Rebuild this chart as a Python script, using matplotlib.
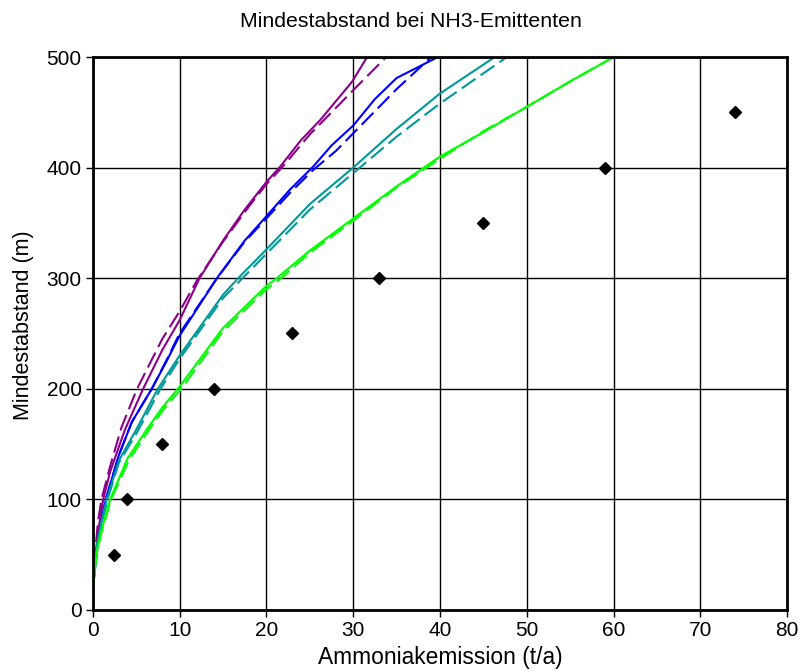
import matplotlib.pyplot as plt

plt.rcParams['font.family'] = ['Liberation Sans', 'DejaVu Sans']

# Mindestabstand curves (solid / dashed pairs)
purple_x = [0, 0.3, 0.7, 1.2, 2, 3.7, 5.8, 8, 10, 12.3, 15, 17.5, 20, 21.6, 24, 26.2, 28, 29.9, 31.6]
purple_y = [18, 50, 75, 100, 125, 163, 200, 235, 262, 300, 334, 362, 387, 401, 425, 443, 460, 478, 500]
purple_dx = [0, 0.3, 0.6, 1, 2, 3.3, 5.1, 8, 10, 12, 15, 18, 20, 22, 25, 28.5, 30, 33.8]
purple_dy = [20, 55, 80, 100, 130, 165, 200, 245, 270, 298, 333, 365, 385, 402, 430, 458, 470, 500]

blue_x = [0, 0.5, 1.0, 1.5, 3, 4.5, 6.8, 8.5, 10, 14.3, 17.5, 20, 22.7, 25.4, 27.5, 30, 32.5, 35, 40]
blue_y = [18, 55, 80, 100, 140, 170, 200, 225, 248, 300, 334, 356, 380, 401, 420, 438, 462, 481, 501]
blue_dx = [0, 0.5, 1, 1.5, 3, 4.5, 6.8, 8.5, 10, 14.3, 17.5, 20, 22.7, 25.4, 28, 30, 35, 39]
blue_dy = [20, 55, 80, 100, 140, 170, 200, 226, 250, 300, 333, 354, 377, 398, 415, 431, 471, 500]

teal_x = [0, 0.5, 1, 1.6, 3, 5, 7.5, 10, 15, 16.75, 20, 25, 30, 35, 40, 46.5]
teal_y = [20, 60, 80, 100, 135, 163, 200, 230, 285, 300, 326, 367, 400, 435, 467, 501]
teal_dx = [0, 0.5, 1, 1.7, 3, 5.2, 7.8, 10, 15, 17, 20, 25, 30, 35, 40, 47.7]
teal_dy = [20, 58, 78, 100, 133, 162, 200, 227, 282, 298, 322, 362, 395, 428, 458, 500]

green_x = [0, 0.5, 1, 2, 4, 6.2, 8, 10, 15, 20, 21.2, 25, 30, 35, 40, 45, 50, 55, 60]
green_y = [20, 55, 72, 100, 137, 163, 183, 202, 255, 293, 300, 325, 354, 383, 410, 432, 455, 478, 500]
green_dx = [0, 0.5, 1, 2.1, 4.2, 6.4, 8.2, 10.2, 15, 20, 21.4, 25, 30, 35, 40, 45, 50, 55, 60]
green_dy = [20, 53, 70, 100, 136, 162, 182, 200, 252, 290, 298, 323, 352, 382, 408, 433, 455, 478, 500]

# Richtwerte (Rauten)
pts_x = [2.4, 3.95, 7.95, 14, 23, 33, 45, 59, 74]
pts_y = [50, 100, 150, 200, 250, 300, 350, 400, 450]

fig = plt.figure(figsize=(8, 6.71), dpi=100)
ax = fig.add_axes([0.116, 0.091, 0.868, 0.824])

ax.grid(True, color='black', linewidth=1.0)
ax.set_axisbelow(True)

ds = (8, 3)
ax.plot(purple_x, purple_y, color='#8b008b', lw=1.5)
ax.plot(purple_dx, purple_dy, color='#8b008b', lw=1.5, dashes=ds)
ax.plot(blue_x, blue_y, color='#0000ff', lw=1.5)
ax.plot(blue_dx, blue_dy, color='#0000ff', lw=1.5, dashes=ds)
ax.plot(teal_x, teal_y, color='#009999', lw=1.5)
ax.plot(teal_dx, teal_dy, color='#009999', lw=1.5, dashes=ds)
ax.plot(green_x, green_y, color='#00ff00', lw=1.5)
ax.plot(green_dx, green_dy, color='#00ff00', lw=1.5, dashes=ds)
ax.plot(pts_x, pts_y, 'D', color='black', markersize=6, linestyle='none')

ax.set_xlim(0, 80)
ax.set_ylim(0, 500)
ax.set_xticks(range(0, 81, 10))
ax.set_yticks(range(0, 501, 100))
ax.tick_params(labelsize=15, direction='out', length=5, width=1, pad=3)
for s in ax.spines.values():
    s.set_linewidth(2)

fig.text(0.514, 1 - 27 / 671, 'Mindestabstand bei NH3-Emittenten', fontsize=15.3,
         ha='center', va='baseline')
ax.set_xlabel('Ammoniakemission (t/a)', fontsize=16.4, labelpad=4)
ax.set_ylabel('Mindestabstand (m)', fontsize=15.5)
ax.yaxis.set_label_coords(-0.085, 0.515)

fig.savefig('out.png', dpi=100)
